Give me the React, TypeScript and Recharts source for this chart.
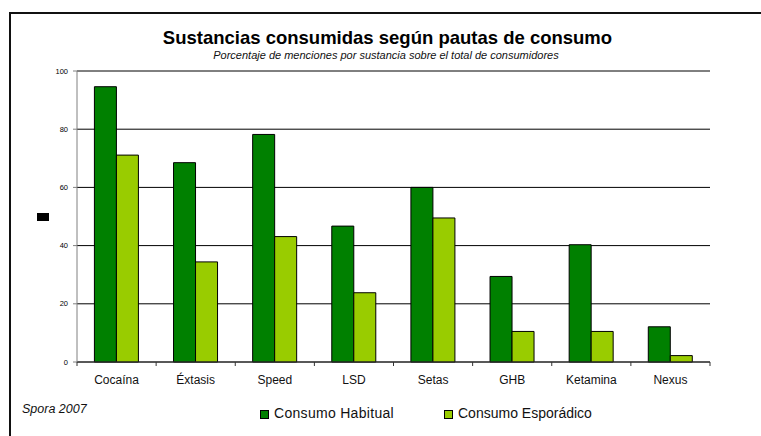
import React from "react";
import { BarChart, Bar, XAxis, YAxis, CartesianGrid } from "recharts";

// categories and series
const substances = ["Cocaína", "Éxtasis", "Speed", "LSD", "Setas", "GHB", "Ketamina", "Nexus"];
const habitual = [94.6, 68.5, 78.2, 46.7, 60, 29.4, 40.3, 12.1];
const esporadico = [71.1, 34.4, 43.1, 23.8, 49.5, 10.5, 10.5, 2.2];
const yTicks = [0, 20, 40, 60, 80, 100];

const seriesNames = ["Consumo Habitual", "Consumo Esporádico"];
const seriesColors = ["#008000", "#99CC00"];

const data = substances.map((name, i) => ({
  name,
  habitual: habitual[i],
  esporadico: esporadico[i],
}));

const W = 761;
const H = 436;
const margin = { top: 71, right: 51, bottom: 44, left: 0 };
const yAxisWidth = 77;
const FONT = "'Liberation Sans', Arial, sans-serif";

// width of one category band, used to put tick marks between categories
const band = (W - margin.left - margin.right - yAxisWidth) / substances.length;

const CategoryTick = (props: any) => {
  const { x, y, payload, index } = props;
  const axisY = y - 8;
  const last = index === substances.length - 1;
  return (
    <g>
      <line x1={x - band / 2} x2={x - band / 2} y1={axisY} y2={axisY + 4} stroke="#333" />
      {last && <line x1={x + band / 2} x2={x + band / 2} y1={axisY} y2={axisY + 4} stroke="#333" />}
      <text x={x} y={y} dy={14} textAnchor="middle" fontSize={12} fill="#111" fontFamily={FONT}>
        {payload.value}
      </text>
    </g>
  );
};

// legend drawn outside the chart so it doesn't eat plot height
const SeriesLegend = () => (
  <div
    style={{
      position: "absolute",
      left: 260,
      top: 405,
      display: "flex",
      fontFamily: FONT,
      fontSize: 14,
      lineHeight: "16px",
      color: "#111",
    }}
  >
    {seriesNames.map((s, i) => (
      <div key={s} style={{ display: "flex", alignItems: "center", width: 184 }}>
        <span
          style={{
            display: "inline-block",
            width: 7,
            height: 7,
            background: seriesColors[i],
            border: "1px solid #000",
            marginRight: 5,
            marginTop: 2,
          }}
        />
        <span style={{ letterSpacing: i === 0 ? 0.3 : 0 }}>{s}</span>
      </div>
    ))}
  </div>
);

export default function App() {
  return (
    <div style={{ position: "absolute", left: 0, top: 0, width: W, height: H, background: "#fff", overflow: "hidden" }}>
      {/* frame, cut off at right and bottom like the reference */}
      <div
        style={{
          position: "absolute",
          left: 9,
          top: 12,
          width: W + 20,
          height: H + 20,
          borderTop: "2px solid #111",
          borderLeft: "2px solid #111",
        }}
      />
      <div
        style={{
          position: "absolute",
          left: 0,
          top: 29,
          width: 775,
          textAlign: "center",
          fontFamily: FONT,
          fontWeight: "bold",
          fontSize: 18.5,
          lineHeight: "18.5px",
          color: "#000",
        }}
      >
        Sustancias consumidas según pautas de consumo
      </div>
      <div
        style={{
          position: "absolute",
          left: 0,
          top: 50,
          width: 772,
          textAlign: "center",
          fontFamily: FONT,
          fontStyle: "italic",
          fontSize: 11,
          lineHeight: "11px",
          color: "#111",
        }}
      >
        Porcentaje de menciones por sustancia sobre el total de consumidores
      </div>
      <div style={{ position: "absolute", left: 37, top: 213, width: 12, height: 8, background: "#000" }} />
      <div
        style={{
          position: "absolute",
          left: 22,
          top: 403,
          fontFamily: FONT,
          fontStyle: "italic",
          fontSize: 12.5,
          lineHeight: "12.5px",
          color: "#111",
        }}
      >
        Spora 2007
      </div>
      <div style={{ position: "absolute", left: 0, top: 0 }}>
        <BarChart
          width={W}
          height={H}
          data={data}
          margin={margin}
          barCategoryGap="22%"
          barGap={0}
        >
          <CartesianGrid vertical={false} stroke="#000" strokeOpacity={1} />
          <XAxis
            dataKey="name"
            height={30}
            interval={0}
            tickLine={false}
            axisLine={{ stroke: "#333" }}
            tick={<CategoryTick />}
          />
          <YAxis
            width={yAxisWidth}
            domain={[0, 100]}
            ticks={yTicks}
            interval={0}
            tickSize={4}
            tickMargin={5}
            axisLine={{ stroke: "#808080" }}
            tickLine={{ stroke: "#808080" }}
            tick={{ fontSize: 7.5, fill: "#000", fontFamily: FONT }}
          />
          <Bar
            dataKey="habitual"
            name={seriesNames[0]}
            fill={seriesColors[0]}
            stroke="#000"
            strokeWidth={1}
            isAnimationActive={false}
          />
          <Bar
            dataKey="esporadico"
            name={seriesNames[1]}
            fill={seriesColors[1]}
            stroke="#000"
            strokeWidth={1}
            isAnimationActive={false}
          />
        </BarChart>
      </div>
      <SeriesLegend />
    </div>
  );
}
